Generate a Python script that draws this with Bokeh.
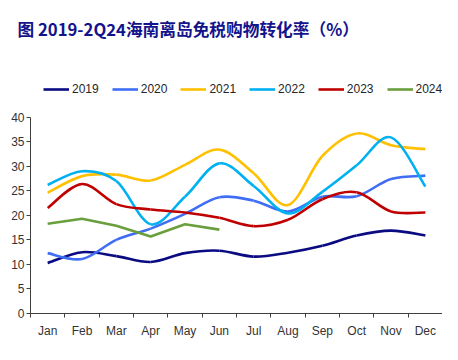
from bokeh.plotting import figure
from bokeh.models import FixedTicker, Legend, LegendItem, ColumnDataSource, Range1d
from bokeh.embed import file_html
from bokeh.resources import INLINE
import numpy as np

months = ["Jan", "Feb", "Mar", "Apr", "May", "Jun", "Jul", "Aug", "Sep", "Oct", "Nov", "Dec"]
y_ticks = [0, 5, 10, 15, 20, 25, 30, 35, 40]

v2019 = [10.3, 12.5, 11.7, 10.5, 12.3, 12.8, 11.6, 12.4, 13.8, 15.9, 16.9, 15.9]
v2020 = [12.3, 11.1, 15.0, 17.3, 20.3, 23.7, 23.0, 20.8, 23.8, 23.9, 27.4, 28.1]
v2021 = [24.6, 28.0, 28.3, 27.1, 30.3, 33.4, 28.6, 22.1, 32.1, 36.7, 34.3, 33.5]
v2022 = [26.2, 29.0, 27.0, 18.2, 23.8, 30.6, 26.0, 20.4, 24.8, 30.2, 35.9, 25.9]
v2023 = [21.5, 26.4, 22.3, 21.2, 20.6, 19.5, 17.8, 19.1, 23.3, 24.7, 20.8, 20.6]
v2024 = [18.3, 19.3, 17.9, 15.7, 18.2, 17.1]

series = [
    ("2019", v2019, "#0A0A82", True),
    ("2020", v2020, "#3F6EF5", True),
    ("2021", v2021, "#FFC000", True),
    ("2022", v2022, "#00B0F0", True),
    ("2023", v2023, "#C00000", True),
    ("2024", v2024, "#6A9F3E", False),
]

W, H = 442, 344
top_border = 53
bottom_border = 31
frame_h = H - top_border - bottom_border
px_per_unit = 197.0 / 40.0
y_end = frame_h / px_per_unit

p = figure(width=W, height=H, output_backend="svg", toolbar_location=None,
           x_range=Range1d(0, 12), y_range=Range1d(0, y_end),
           min_border_left=30, min_border_right=0, min_border_top=top_border,
           min_border_bottom=bottom_border)
p.outline_line_color = None
p.grid.visible = False
p.background_fill_color = "white"

p.title.text = "图 2019-2Q24海南离岛免税购物转化率（%）"
p.title.text_font = "Noto Sans CJK SC"
p.title.text_font_size = "16.7px"
p.title.text_font_style = "bold"
p.title.text_color = "#13138C"
p.title.align = "left"
p.title.offset = -13
p.title.standoff = 28

xpos = np.arange(len(months)) + 0.5

def smooth_segments(xs, ys):
    n = len(xs)
    x0, y0, x1, y1, cx0, cy0, cx1, cy1 = [], [], [], [], [], [], [], []
    for i in range(n - 1):
        xm, ym = (xs[i - 1], ys[i - 1]) if i > 0 else (xs[i], ys[i])
        xp, yp = (xs[i + 2], ys[i + 2]) if i + 2 < n else (xs[i + 1], ys[i + 1])
        x0.append(xs[i]); y0.append(ys[i])
        x1.append(xs[i + 1]); y1.append(ys[i + 1])
        cx0.append(xs[i] + (xs[i + 1] - xm) / 6.0)
        cy0.append(ys[i] + (ys[i + 1] - ym) / 6.0)
        cx1.append(xs[i + 1] - (xp - xs[i]) / 6.0)
        cy1.append(ys[i + 1] - (yp - ys[i]) / 6.0)
    return dict(x0=x0, y0=y0, x1=x1, y1=y1, cx0=cx0, cy0=cy0, cx1=cx1, cy1=cy1)

items = []
for name, vals, color, smooth in series:
    xs = list(xpos[:len(vals)])
    if smooth:
        src = ColumnDataSource(smooth_segments(xs, vals))
        p.bezier(x0="x0", y0="y0", x1="x1", y1="y1", cx0="cx0", cy0="cy0",
                 cx1="cx1", cy1="cy1", source=src, line_color=color, line_width=2.6)
    else:
        p.line(xs, vals, line_color=color, line_width=2.6)
    dummy = p.line([np.nan], [np.nan], line_color=color, line_width=2.6)
    items.append(LegendItem(label=name, renderers=[dummy]))

legend = Legend(items=items, orientation="horizontal", location=(13, 217),
                glyph_width=26, glyph_height=12, label_height=12,
                label_standoff=3, spacing=13, padding=0, margin=0,
                border_line_color=None, background_fill_alpha=0,
                label_text_font="Liberation Sans", label_text_font_size="12px",
                label_text_color="#262626")
p.add_layout(legend, "center")

axis_color = "#404040"
for ax in (p.xaxis[0], p.yaxis[0]):
    ax.axis_line_color = axis_color
    ax.major_tick_line_color = axis_color
    ax.minor_tick_line_color = axis_color
    ax.major_label_text_font = "Liberation Sans"
    ax.major_label_text_font_size = "12px"
    ax.major_label_text_color = "#333333"

p.yaxis.ticker = FixedTicker(ticks=y_ticks)
p.yaxis.bounds = (0, 40)
p.yaxis.major_tick_out = 4
p.yaxis.major_tick_in = 0
p.yaxis.minor_tick_out = 0
p.yaxis.minor_tick_in = 0
p.yaxis.major_label_standoff = 2

p.xaxis.ticker = FixedTicker(ticks=list(xpos), minor_ticks=list(range(13)))
p.xaxis.major_label_overrides = {float(x): m for x, m in zip(xpos, months)}
p.xaxis.major_tick_out = 0
p.xaxis.major_tick_in = 0
p.xaxis.minor_tick_out = 4
p.xaxis.minor_tick_in = 0
p.xaxis.major_label_standoff = 6

open("out.html", "w").write(file_html(p, INLINE))
